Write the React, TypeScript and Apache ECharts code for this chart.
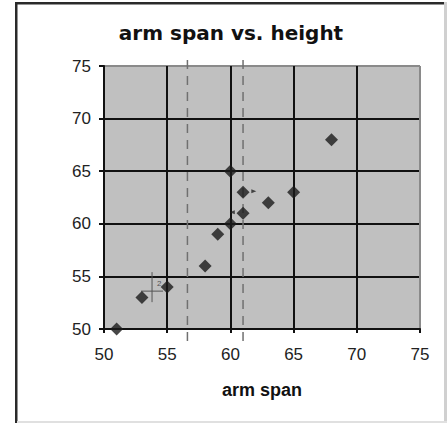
import React, { useEffect, useRef } from "react";
import * as echarts from "echarts";

const armSpan = [51, 53, 55, 58, 59, 60, 60, 61, 61, 63, 65, 68];
const height = [50, 53, 54, 56, 59, 60, 65, 61, 63, 62, 63, 68];
const dashedX = [56.6, 61];
const crossMark = [[53.8, 53.6]];
const arrowPts = [
  [61.85, 63.1, -90],
  [60.15, 61.1, 90],
];
const tickValues = [50, 55, 60, 65, 70, 75];

export default function App() {
  const ref = useRef<HTMLDivElement>(null);
  useEffect(() => {
    document.body.style.margin = "0";
    const chart = echarts.init(ref.current!, null, { renderer: "svg" });
    const points = armSpan.map((x, i) => [x, height[i]]);
    const gridColors = tickValues.map((v, i) => (i === tickValues.length - 1 ? "#8a8a8a" : "#111"));
    chart.setOption({
      animation: false,
      backgroundColor: "#ffffff",
      grid: {
        left: 104,
        right: 27,
        top: 66,
        bottom: 94,
        show: true,
        backgroundColor: "#c0c0c0",
        borderColor: "#8a8a8a",
        borderWidth: 1,
      },
      xAxis: {
        type: "value",
        min: 50,
        max: 75,
        interval: 5,
        name: "arm span",
        nameLocation: "middle",
        nameGap: 52,
        nameTextStyle: { fontFamily: "Liberation Sans", fontWeight: "bold", fontSize: 18, color: "#111" },
        axisLine: { show: true, lineStyle: { color: "#111", width: 2 } },
        axisTick: { show: true, length: 4, lineStyle: { color: "#111", width: 2 } },
        axisLabel: { fontFamily: "Liberation Sans", fontSize: 17, color: "#222", margin: 17 },
        splitLine: { show: true, lineStyle: { color: gridColors, width: 2 } },
      },
      yAxis: {
        type: "value",
        min: 50,
        max: 75,
        interval: 5,
        axisLine: { show: true, lineStyle: { color: "#111", width: 2 } },
        axisTick: { show: true, length: 5, lineStyle: { color: "#111", width: 2 } },
        axisLabel: { fontFamily: "Liberation Sans", fontSize: 17, color: "#222", margin: 13 },
        splitLine: { show: true, lineStyle: { color: gridColors, width: 2 } },
      },
      graphic: [
        { type: "rect", shape: { x: 15, y: 2, width: 2.5, height: 421 }, style: { fill: "#2a2a2a" } },
        { type: "rect", shape: { x: 15, y: 2, width: 430, height: 2.5 }, style: { fill: "#2a2a2a" } },
        { type: "rect", shape: { x: 444, y: 2, width: 3, height: 421 }, style: { fill: "#d0d0d0" } },
        { type: "rect", shape: { x: 17, y: 421, width: 430, height: 2 }, style: { fill: "#e0e0e0" } },
        {
          type: "text",
          x: 231,
          y: 33,
          style: {
            text: "arm span vs. height",
            fontFamily: "DejaVu Sans",
            fontWeight: "bold",
            fontSize: 20,
            fill: "#111",
            textAlign: "center",
            textVerticalAlign: "middle",
          },
        },
      ],
      series: [
        {
          type: "custom",
          data: dashedX.map((x) => [x]),
          clip: false,
          z: 3,
          renderItem: (params: any, api: any) => {
            const x = api.value(0);
            const top = api.coord([x, 75]);
            const bot = api.coord([x, 50]);
            return {
              type: "line",
              shape: { x1: top[0], y1: top[1] - 6, x2: bot[0], y2: bot[1] + 13 },
              style: { stroke: "#707070", lineWidth: 1.5, lineDash: [9, 7] },
            };
          },
        },
        {
          type: "custom",
          data: crossMark,
          clip: false,
          z: 3,
          renderItem: (params: any, api: any) => {
            const p = api.coord([api.value(0), api.value(1)]);
            return {
              type: "group",
              children: [
                { type: "line", shape: { x1: p[0], y1: p[1] - 19, x2: p[0], y2: p[1] + 11 }, style: { stroke: "#555", lineWidth: 1 } },
                { type: "line", shape: { x1: p[0] - 11, y1: p[1], x2: p[0] + 11, y2: p[1] }, style: { stroke: "#555", lineWidth: 1 } },
                { type: "text", x: p[0] + 5, y: p[1] - 8, style: { text: "2", fontSize: 8, fontFamily: "Liberation Sans", fill: "#555", textVerticalAlign: "middle" } },
              ],
            };
          },
        },
        {
          type: "scatter",
          data: arrowPts.map((a) => ({ value: [a[0], a[1]], symbolRotate: a[2] })),
          symbol: "triangle",
          symbolSize: [4, 5],
          itemStyle: { color: "#222" },
          z: 4,
        },
        {
          type: "scatter",
          data: points,
          symbol: "diamond",
          symbolSize: 13,
          itemStyle: { color: "#1a1a1a" },
          z: 5,
        },
      ],
    });
    return () => chart.dispose();
  }, []);
  return <div ref={ref} style={{ position: "absolute", left: 0, top: 0, width: 447, height: 423 }} />;
}
